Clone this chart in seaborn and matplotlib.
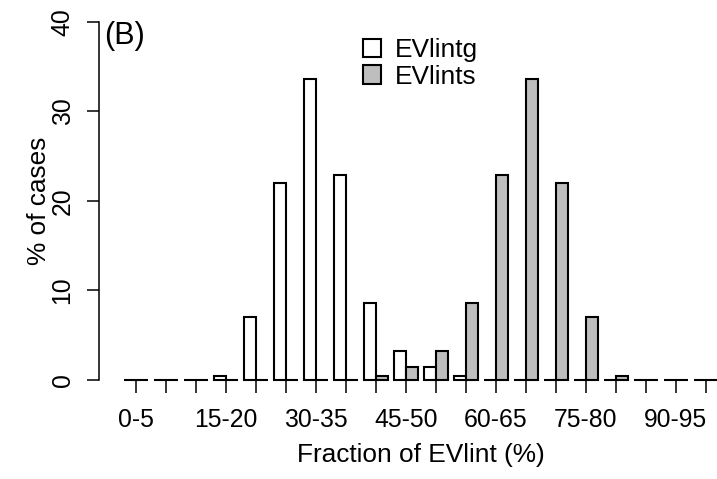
import matplotlib
matplotlib.use("Agg")
import matplotlib.pyplot as plt
from matplotlib.patches import Patch
import numpy as np
import pandas as pd
import seaborn as sns

sns.set_style("ticks")
plt.rcParams['font.family'] = ['Liberation Sans', 'DejaVu Sans']
plt.rcParams['text.color'] = 'black'
plt.rcParams['xtick.color'] = 'black'
plt.rcParams['ytick.color'] = 'black'
plt.rcParams['axes.labelcolor'] = 'black'

# data: % of cases per 5% bin
bins = ['0-5', '5-10', '10-15', '15-20', '20-25', '25-30', '30-35', '35-40',
        '40-45', '45-50', '50-55', '55-60', '60-65', '65-70', '70-75', '75-80',
        '80-85', '85-90', '90-95', '95-100']
evlintg = [0, 0, 0, 0.5, 7.0, 22.0, 33.6, 22.9, 8.6, 3.2, 1.4, 0.5,
           0, 0, 0, 0, 0, 0, 0, 0]
evlints = [0, 0, 0, 0, 0, 0, 0, 0, 0.5, 1.4, 3.2, 8.6,
           22.9, 33.6, 22.0, 7.0, 0.5, 0, 0, 0]
shown_labels = ['0-5', '15-20', '30-35', '45-50', '60-65', '75-80', '90-95']

df = pd.DataFrame({
    'bin': bins * 2,
    'pct': evlintg + evlints,
    'series': ['EVlintg'] * len(bins) + ['EVlints'] * len(bins),
})
colors = {'EVlintg': 'white', 'EVlints': '#BEBEBE'}

W, H = 717, 479
fig = plt.figure(figsize=(W / 100, H / 100), dpi=100)
# plot region in pixels: x 99..717, y 21.7..380 (from top)
ax = fig.add_axes([99 / W, (H - 380) / H, (W - 99) / W, (380 - 21.7) / H])

sns.barplot(data=df, x='bin', y='pct', hue='series', order=bins,
            palette=colors, edgecolor='black', linewidth=1.5,
            width=0.8, saturation=1, legend=False, ax=ax)
for p in ax.patches:
    p.set_clip_on(False)

ax.set_xlim(-1.223, 19.38)
ax.set_ylim(0, 40)

fs = 17.8
fs_lab = 18.9
ax.set_xticks(range(len(bins)))
ax.set_xticklabels([b if b in shown_labels else '' for b in bins], fontsize=fs)
ax.set_yticks([0, 10, 20, 30, 40])
ax.set_yticklabels(['0', '10', '20', '30', '40'], fontsize=fs,
                   rotation=90, va='center')
ax.tick_params(axis='x', length=9.4, width=1.1, pad=11, color='black')
ax.tick_params(axis='y', length=8.6, width=1.1, pad=9, color='black')
ax.set_xlabel('')
ax.set_ylabel('')

for s in ['top', 'right', 'bottom']:
    ax.spines[s].set_visible(False)
ax.spines['left'].set_linewidth(1.1)
ax.spines['left'].set_color('black')

fig.text(421 / W, 1 - 455 / H, 'Fraction of EVlint (%)', ha='center',
         va='center', fontsize=fs_lab)
fig.text(39 / W, 1 - 201 / H, '% of cases', ha='center', va='center',
         rotation=90, fontsize=fs_lab)
fig.text(104 / W, 1 - 36 / H, '(B)', ha='left', va='center', fontsize=22)

handles = [Patch(facecolor=colors[k], edgecolor='black', linewidth=1.5, label=k)
           for k in ['EVlintg', 'EVlints']]
ax.legend(handles=handles, loc='upper left',
          bbox_to_anchor=(363 / W, 1 - 38 / H), bbox_transform=fig.transFigure,
          frameon=False, fontsize=fs_lab, handlelength=0.7, handleheight=0.7,
          handletextpad=0.5, labelspacing=0.1, borderpad=0, borderaxespad=0)

fig.savefig('out.png', dpi=100)
